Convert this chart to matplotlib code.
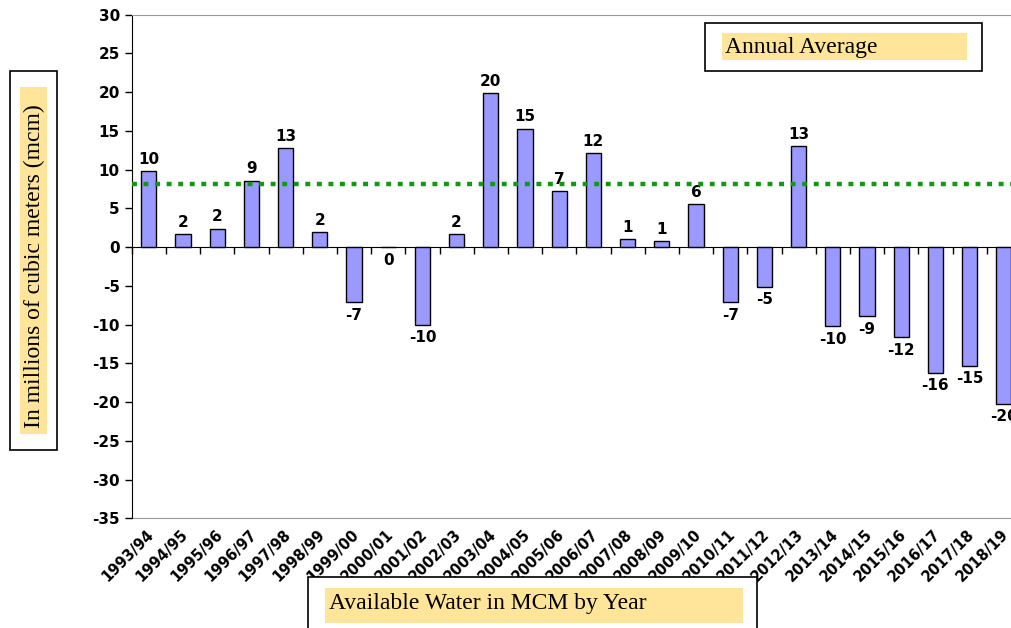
import numpy as np
import matplotlib.pyplot as plt
from matplotlib.patches import Rectangle

plt.rcParams['axes.unicode_minus'] = False

# -----------------------------------------------------------------------------------------

years = ['1993/94', '1994/95', '1995/96', '1996/97', '1997/98', '1998/99', '1999/00',
         '2000/01', '2001/02', '2002/03', '2003/04', '2004/05', '2005/06', '2006/07',
         '2007/08', '2008/09', '2009/10', '2010/11', '2011/12', '2012/13', '2013/14',
         '2014/15', '2015/16', '2016/17', '2017/18', '2018/19']

water = [9.8, 1.7, 2.4, 8.6, 12.8, 1.9, -7.1, 0.0, -10.0, 1.7, 19.9, 15.3, 7.2, 12.1,
         1.0, 0.8, 5.6, -7.1, -5.1, 13.0, -10.2, -8.9, -11.6, -16.2, -15.3, -20.2]

labels = ['10', '2', '2', '9', '13', '2', '-7', '0', '-10', '2', '20', '15', '7', '12',
          '1', '1', '6', '-7', '-5', '13', '-10', '-9', '-12', '-16', '-15', '-20']

annual_average = 8.2

yticks = np.arange(-35, 31, 5)

# -----------------------------------------------------------------------------------------

W, H = 1011., 628.
fig = plt.figure(figsize=(W/100., H/100.), dpi=100)

# axes runs a little past the right edge of the picture, like the reference
ax = fig.add_axes([131.7/W, 1. - 518.3/H, (26*34.2)/W, (518.3 - 14.7)/H])

x = np.arange(len(years))
ax.bar(x, water, width=0.44, color='#9999ff', edgecolor='black', linewidth=1.0, zorder=3)

ax.axhline(annual_average, color='#119911', linewidth=3.2, linestyle=(0, (1.1, 1.5)), zorder=4)

for xi, v, lab in zip(x, water, labels):
    if v > 0:
        ax.annotate(lab, (xi, v), xytext=(0, 3), textcoords='offset points',
                    ha='center', va='bottom', fontsize=11, fontweight='bold')
    else:
        ax.annotate(lab, (xi, v), xytext=(0, -4), textcoords='offset points',
                    ha='center', va='top', fontsize=11, fontweight='bold')

ax.set_xlim(-0.5, len(years) - 0.5)
ax.set_ylim(-35, 30)
ax.set_yticks(yticks)
ax.tick_params(axis='y', direction='out', length=5, width=1, labelsize=11)
for t in ax.get_yticklabels():
    t.set_fontweight('bold')

# zero line carries the category boundary ticks
ax.spines['bottom'].set_position(('data', 0))
ax.spines['bottom'].set_color('black')
ax.set_xticks(np.arange(len(years) + 1) - 0.5)
ax.tick_params(axis='x', direction='out', length=5, width=1, labelbottom=False)

ax.spines['right'].set_visible(False)
ax.spines['top'].set_color('#999999')
ax.spines['left'].set_color('black')

# category labels along the bottom of the plot area
sec = ax.secondary_xaxis('bottom')
sec.set_xticks(x + 0.08, years)
sec.tick_params(length=0, pad=10)
sec.spines['bottom'].set_color('#999999')
for t in sec.get_xticklabels():
    t.set_rotation(45)
    t.set_ha('right')
    t.set_va('center')
    t.set_rotation_mode('anchor')
    t.set_fontweight('bold')
    t.set_fontsize(10.5)

# -----------------------------------------------------------------------------------------

def fig_rect(x0, y0, x1, y1, **kw):
    r = Rectangle((x0/W, 1. - y1/H), (x1 - x0)/W, (y1 - y0)/H,
                  transform=fig.transFigure, **kw)
    fig.patches.append(r)

serif = 'Liberation Serif'
yellow = '#ffe599'

# y label box
fig_rect(10, 71, 57, 450, facecolor='white', edgecolor='black', linewidth=1.2)
fig_rect(20, 87, 47, 434, facecolor=yellow, edgecolor='none')
fig.text(34/W, 1. - 266/H, 'In millions of cubic meters (mcm)', rotation=90,
         ha='center', va='center', family=serif, fontsize=17)

# legend-like box
fig_rect(705, 23, 982, 71, facecolor='white', edgecolor='black', linewidth=1.2)
fig_rect(722, 33, 967, 60, facecolor=yellow, edgecolor='none')
fig.text(725/W, 1. - 47/H, 'Annual Average', ha='left', va='center',
         family=serif, fontsize=17)

# title box at the bottom
fig_rect(308, 577, 757, 640, facecolor='white', edgecolor='black', linewidth=1.2)
fig_rect(325, 588, 743, 623, facecolor=yellow, edgecolor='none')
fig.text(329/W, 1. - 604/H, 'Available Water in MCM by Year', ha='left', va='center',
         family=serif, fontsize=17)

fig.savefig('out.png', dpi=100)
